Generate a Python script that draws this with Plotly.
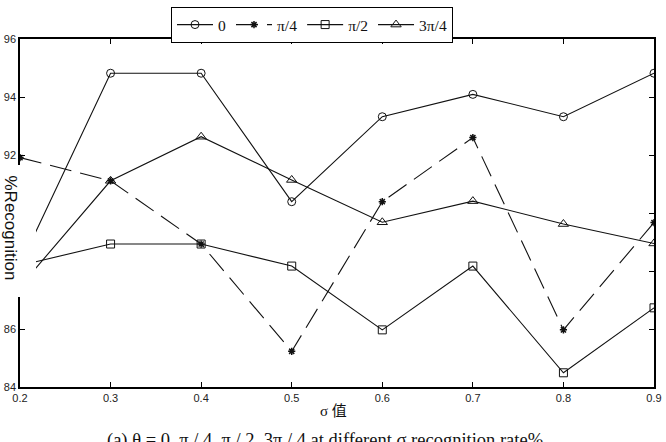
import plotly.graph_objects as go

sigma = [0.2, 0.3, 0.4, 0.5, 0.6, 0.7, 0.8, 0.9]
names = ["0", "π/4", "π/2", "3π/4"]
rec_0 = [88.2, 94.82, 94.82, 90.39, 93.32, 94.09, 93.32, 94.82]
rec_pi4 = [91.91, 91.11, 88.93, 85.23, 90.39, 92.6, 85.97, 89.67]
rec_pi2 = [88.19, 88.93, 88.93, 88.17, 85.97, 88.17, 84.49, 86.73]
rec_3pi4 = [87.46, 91.11, 92.63, 91.14, 89.68, 90.41, 89.62, 88.95]
y_ticks = [84, 86, 88, 90, 92, 94, 96]
x_ticks = [0.2, 0.3, 0.4, 0.5, 0.6, 0.7, 0.8, 0.9]

W, H = 666, 442
ML, MR, MT, MB = 20, 12, 39, 55
PW, PH = W - ML - MR, H - MT - MB

def px(x):
    return (x - ML) / PW

def py(y):
    return (H - MB - y) / PH

fig = go.Figure()
styles = [
    (rec_0, dict(symbol="circle-open", size=8), "solid"),
    (rec_pi4, dict(symbol="asterisk-open", size=6, line=dict(width=1.5)), "22px,9px"),
    (rec_pi2, dict(symbol="square-open", size=8), "solid"),
    (rec_3pi4, dict(symbol="triangle-up-open", size=9), "solid"),
]
for name, (vals, mk, dash) in zip(names, styles):
    mk = dict(mk)
    mk.setdefault("line", dict(width=1))
    mk["color"] = "#111"
    mk["line"]["color"] = "#111"
    fig.add_trace(go.Scatter(
        x=sigma, y=vals, name=name, mode="lines+markers",
        line=dict(color="#111", width=1.1, dash=dash),
        marker=mk,
    ))

axis_common = dict(
    showline=True, linecolor="black", linewidth=1.5, mirror="ticks",
    ticks="inside", ticklen=5, tickcolor="black", tickwidth=1,
    showgrid=False, zeroline=False,
    tickfont=dict(family="Liberation Sans, Arial, sans-serif", size=11, color="#222"),
)
fig.update_xaxes(range=[0.2, 0.9], tickvals=x_ticks,
                 ticktext=[f"{v:.1f}" for v in x_ticks], **axis_common)
fig.update_yaxes(range=[84, 96], tickvals=y_ticks,
                 ticktext=[str(v) for v in y_ticks], **axis_common)

# white block behind y-axis title (covers part of axis, as in reference)
fig.add_shape(type="rect", xref="paper", yref="paper",
              x0=px(-2), x1=px(36), y0=py(297), y1=py(165),
              fillcolor="white", line=dict(width=0), layer="above")

fig.add_annotation(text="%Recognition", xref="paper", yref="paper",
                   x=px(10), y=py(227.5), showarrow=False, textangle=90,
                   xanchor="center", yanchor="middle",
                   font=dict(family="Liberation Sans, Arial, sans-serif", size=17, color="#111"))
fig.add_annotation(text="σ 值", xref="paper", yref="paper",
                   x=px(333), y=py(411), showarrow=False,
                   xanchor="center", yanchor="middle",
                   font=dict(family="Liberation Serif, Noto Sans CJK SC, serif", size=15, color="#111"))
fig.add_annotation(text="(a) θ = 0, π / 4, π / 2 ,3π / 4 at different σ recognition rate%",
                   xref="paper", yref="paper",
                   x=px(325), y=py(428), showarrow=False,
                   xanchor="center", yanchor="top",
                   font=dict(family="Liberation Serif, Times New Roman, serif", size=18.5, color="#111"))

fig.update_layout(
    width=W, height=H, margin=dict(l=ML, r=MR, t=MT, b=MB, autoexpand=False),
    paper_bgcolor="white", plot_bgcolor="white",
    legend=dict(orientation="h", x=px(171), y=py(7), xanchor="left", yanchor="top",
                bordercolor="black", borderwidth=1, bgcolor="white",
                font=dict(family="Liberation Serif, Times New Roman, serif", size=15.5, color="#111"),
                tracegroupgap=0, itemwidth=36),
    showlegend=True,
)

fig.write_html("out.html")
